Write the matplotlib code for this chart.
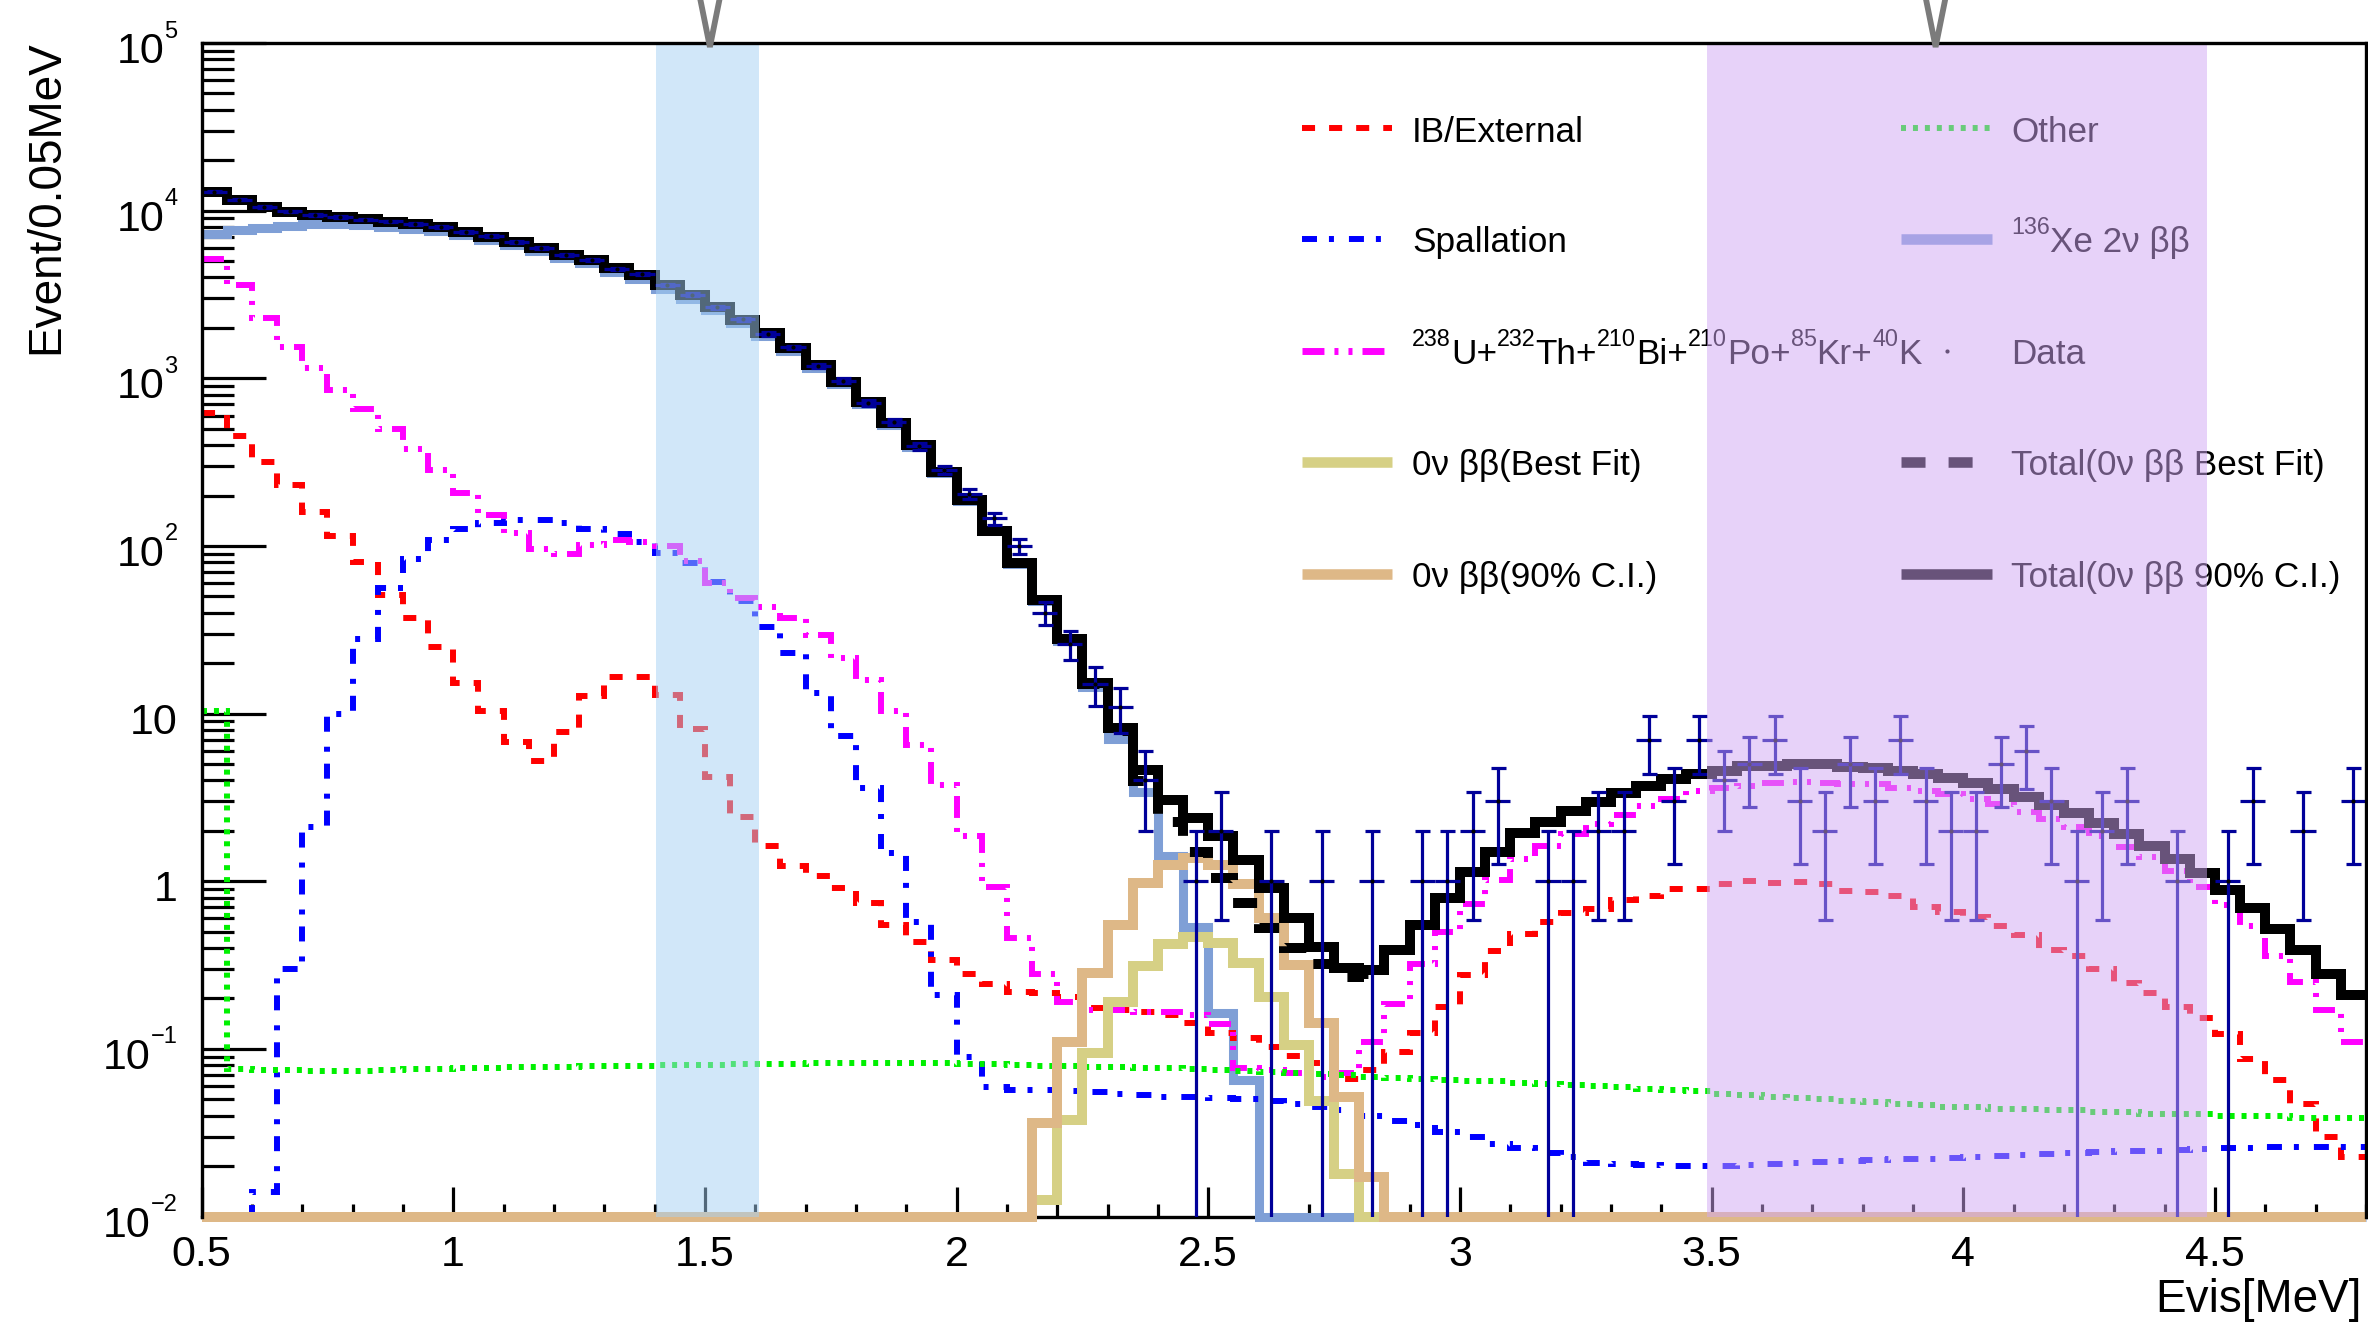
import numpy as np
import matplotlib
matplotlib.use("Agg")
import matplotlib.pyplot as plt
import matplotlib.transforms as mtransforms
from matplotlib.ticker import FixedLocator, NullFormatter, LogLocator

plt.rcParams['font.family'] = ['Liberation Sans', 'DejaVu Sans']
plt.rcParams['mathtext.fontset'] = 'custom'
plt.rcParams['mathtext.rm'] = 'Liberation Sans'
plt.rcParams['mathtext.it'] = 'Liberation Sans:italic'
plt.rcParams['mathtext.bf'] = 'Liberation Sans:bold'
plt.rcParams['lines.scale_dashes'] = False

# ---------------- spectra (events per 0.05 MeV bin, 0.5 - 4.8 MeV) ----------------
evis_edges = np.round(0.5 + 0.05 * np.arange(87), 3)

total_90cl = [
    12970, 11590, 10570, 9860, 9420, 9130, 8880, 8600, 8330, 7960,
    7500, 7000, 6530, 5970, 5440, 5080, 4530, 4140, 3610, 3140,
    2680, 2230, 1860, 1510, 1200, 955, 726, 540, 400, 277,
    188, 123, 78.8, 47.6, 27.8, 15.2, 8.18, 4.61, 3.05, 2.38,
    1.85, 1.34, 0.91, 0.60, 0.408, 0.303, 0.296, 0.389, 0.548, 0.793,
    1.14, 1.50, 1.93, 2.25, 2.62, 2.96, 3.35, 3.70, 4.08, 4.34,
    4.57, 4.87, 4.87, 4.99, 4.99, 4.83, 4.72, 4.55, 4.37, 4.11,
    3.84, 3.54, 3.20, 2.85, 2.55, 2.22, 1.91, 1.62, 1.35, 1.12,
    0.89, 0.69, 0.52, 0.39, 0.28, 0.21]

total_best = [
    12970, 11590, 10570, 9860, 9420, 9130, 8880, 8600, 8330, 7960,
    7500, 7000, 6530, 5970, 5440, 5080, 4530, 4140, 3610, 3140,
    2680, 2230, 1860, 1510, 1200, 955, 726, 540, 400, 277,
    188, 123, 78.8, 47.5, 27.7, 15.0, 7.85, 3.95, 2.25, 1.50,
    1.05, 0.74, 0.53, 0.40, 0.32, 0.27, 0.28, 0.389, 0.548, 0.793,
    1.14, 1.50, 1.93, 2.25, 2.62, 2.96, 3.35, 3.70, 4.08, 4.34,
    4.57, 4.87, 4.87, 4.99, 4.99, 4.83, 4.72, 4.55, 4.37, 4.11,
    3.84, 3.54, 3.20, 2.85, 2.55, 2.22, 1.91, 1.62, 1.35, 1.12,
    0.89, 0.69, 0.52, 0.39, 0.28, 0.21]

xe136_2nbb = [
    7230, 7670, 7930, 8110, 8300, 8330, 8220, 8030, 7750, 7540,
    7150, 6700, 6260, 5730, 5210, 4840, 4290, 3910, 3410, 2970,
    2560, 2130, 1780, 1450, 1156, 925, 706, 528, 392, 273,
    186, 122, 78, 47, 27.2, 14.4, 7.06, 3.43, 1.41, 0.535,
    0.163, 0.065, 0, 0, 0, 0, 0, 0, 0, 0,
    0, 0, 0, 0, 0, 0, 0, 0, 0, 0,
    0, 0, 0, 0, 0, 0, 0, 0, 0, 0,
    0, 0, 0, 0, 0, 0, 0, 0, 0, 0,
    0, 0, 0, 0, 0, 0]

ib_external = [
    624, 455, 318, 231, 160, 115, 80, 51, 37, 24.9,
    15.2, 10.3, 6.8, 5.2, 7.8, 12.8, 16.5, 16.5, 12.9, 8.1,
    4.2, 2.41, 1.62, 1.23, 1.08, 0.91, 0.745, 0.548, 0.433, 0.34,
    0.28, 0.243, 0.22, 0.216, 0.203, 0.175, 0.17, 0.165, 0.16, 0.142,
    0.125, 0.116, 0.103, 0.091, 0.082, 0.066, 0.075, 0.096, 0.124, 0.179,
    0.276, 0.385, 0.485, 0.574, 0.65, 0.68, 0.77, 0.82, 0.90, 0.90,
    0.97, 1.0, 0.98, 0.99, 0.97, 0.87, 0.86, 0.82, 0.70, 0.66,
    0.615, 0.54, 0.48, 0.39, 0.36, 0.30, 0.247, 0.217, 0.179, 0.152,
    0.122, 0.087, 0.065, 0.047, 0.030, 0.0228]

spallation = [
    0, 0, 0.014, 0.30, 2.1, 10.0, 28, 56, 84, 109,
    127, 138, 143, 142, 137, 127, 118, 106, 91, 79,
    61, 47, 33, 23, 13.2, 7.4, 3.6, 1.47, 0.57, 0.21,
    0.09, 0.059, 0.057, 0.057, 0.056, 0.055, 0.054, 0.053, 0.052, 0.052,
    0.051, 0.050, 0.049, 0.047, 0.045, 0.043, 0.040, 0.037, 0.035, 0.032,
    0.030, 0.027, 0.0255, 0.024, 0.0228, 0.021, 0.0206, 0.0202, 0.020, 0.020,
    0.020, 0.0203, 0.0207, 0.021, 0.0212, 0.0215, 0.0218, 0.022, 0.0222, 0.0225,
    0.0228, 0.0231, 0.0234, 0.0237, 0.024, 0.0242, 0.0245, 0.0247, 0.025, 0.0253,
    0.0255, 0.0258, 0.026, 0.026, 0.026, 0.026]

u_th_bi_po_kr_k = [
    5130, 3600, 2300, 1545, 1150, 851, 655, 497, 377, 284,
    208, 153, 119, 96, 90, 101, 109, 106, 100, 81,
    60, 49, 43.5, 37, 29.5, 21.4, 15.9, 10.3, 6.5, 3.75,
    1.85, 0.92, 0.46, 0.28, 0.19, 0.17, 0.17, 0.165, 0.165, 0.16,
    0.14, 0.077, 0.075, 0.072, 0.068, 0.072, 0.11, 0.185, 0.32, 0.50,
    0.73, 1.02, 1.35, 1.62, 1.92, 2.2, 2.5, 2.8, 3.08, 3.45,
    3.6, 3.72, 3.84, 3.92, 3.88, 3.82, 3.78, 3.6, 3.45, 3.3,
    3.1, 2.9, 2.6, 2.35, 2.1, 1.85, 1.6, 1.4, 1.15, 0.92,
    0.72, 0.54, 0.36, 0.25, 0.17, 0.11]

other = [
    10.4,
    0.076, 0.075, 0.075, 0.074, 0.074, 0.074, 0.075, 0.076, 0.076, 0.077,
    0.077, 0.078, 0.078, 0.078, 0.079, 0.079, 0.079, 0.080, 0.080, 0.080,
    0.081, 0.081, 0.081, 0.082, 0.082, 0.082, 0.082, 0.082, 0.082, 0.081,
    0.081, 0.080, 0.079, 0.079, 0.078, 0.078, 0.077, 0.077, 0.076, 0.075,
    0.074, 0.073, 0.072, 0.071, 0.070, 0.068, 0.067, 0.066, 0.065, 0.064,
    0.064, 0.063, 0.062, 0.061, 0.060, 0.059, 0.058, 0.057, 0.056, 0.054,
    0.053, 0.052, 0.051, 0.050, 0.049, 0.048, 0.047, 0.046, 0.045, 0.045,
    0.044, 0.044, 0.043, 0.043, 0.042, 0.042, 0.041, 0.041, 0.041, 0.040,
    0.040, 0.040, 0.039, 0.039, 0.039]

onbb_best = [0] * 33 + [
    0.0126, 0.0377, 0.094, 0.191, 0.313, 0.423, 0.463, 0.43, 0.327, 0.205,
    0.106, 0.0486, 0.018] + [0] * 40

onbb_90cl = [0] * 33 + [
    0.036, 0.110, 0.283, 0.548, 0.973, 1.25, 1.37, 1.25, 0.96, 0.60,
    0.317, 0.142, 0.052, 0.0173] + [0] * 39

data_counts = [
    12980, 11650, 10520, 9890, 9400, 9160, 8850, 8620, 8300, 7990,
    7480, 7030, 6510, 5990, 5420, 5100, 4510, 4170, 3590, 3160,
    2660, 2250, 1840, 1530, 1190, 970, 715, 552, 393, 284,
    205, 146, 100, 40, 26, 15, 11, 4, 0, 1,
    2, 0, 1, 0, 1, 0, 1, 0, 1, 1,
    2, 3, 0, 1, 1, 2, 2, 7, 3, 7,
    4, 5, 7, 3, 2, 5, 3, 7, 3, 2,
    2, 5, 6, 3, 1, 2, 3, 0, 1, 0,
    1, 3, 0, 2, 0, 3]

# energy windows and marker positions
roi_low = (1.403, 1.607)
roi_high = (3.491, 4.485)
roi_markers = [1.51, 3.945]

y_decades = [-2, -1, 0, 1, 2, 3, 4, 5]
x_major = [0.5, 1.0, 1.5, 2.0, 2.5, 3.0, 3.5, 4.0, 4.5]
x_labels = ['0.5', '1', '1.5', '2', '2.5', '3', '3.5', '4', '4.5']

# ---------------- figure / axes layout ----------------
DPI = 100
W, H = 2368, 1323
AX_L, AX_R, AX_T, AX_B = 201.5, 2366.0, 43.0, 1216.6
fig = plt.figure(figsize=(W / DPI, H / DPI), dpi=DPI)
ax = fig.add_axes([AX_L / W, 1 - AX_B / H, (AX_R - AX_L) / W, (AX_B - AX_T) / H])
ax.set_yscale('log')
Y_MIN, Y_MAX = 1e-2, 1e5
ax.set_xlim(0.5, 4.8)
ax.set_ylim(Y_MIN, Y_MAX)
renderer = fig.canvas.get_renderer()


def px_off(dx, dy):
    return mtransforms.ScaledTranslation(dx / DPI, dy / DPI, fig.dpi_scale_trans)


def axfrac(px, py):
    return (px - AX_L) / (AX_R - AX_L), (AX_B - py) / (AX_B - AX_T)


def draw_hist(vals, clip=True, **kw):
    v = np.clip(np.asarray(vals, dtype=float), Y_MIN, None)
    art = ax.stairs(v, evis_edges, baseline=None, fill=False, clip_on=clip, **kw)
    art.set_joinstyle('miter')
    return art


def rich_label(x_px, base_px, pieces, size, sup_size, sup_rise):
    """Left-to-right run of text pieces; pieces flagged True are superscripts."""
    x = x_px
    for txt, sup in pieces:
        fx, fy = axfrac(x, base_px - (sup_rise if sup else 0))
        t = ax.text(fx, fy, txt, transform=ax.transAxes, fontsize=sup_size if sup else size,
                    ha='left', va='baseline', color='black', zorder=5)
        x += t.get_window_extent(renderer=renderer).width


C_XE = '#7f9fd6'
C_KHAKI = '#d6d085'
C_TAN = '#deb887'
C_RED = '#ff0000'
C_BLUE = '#0000ff'
C_MAG = '#ff00ff'
C_GREEN = '#00f000'
C_DATA = '#000099'

LS_IB = (0, (9.4, 10.1))
LS_SPALL = (0, (10.8, 8.6, 3.6, 10.8))
LS_UTH = (0, (15.8, 7.2, 2.9, 7.2, 2.9, 7.2))
LS_OTHER = (0, (3.6, 5.0))
LS_TOTBEST = (0, (17.3, 16.6))

draw_hist(xe136_2nbb, clip=False, color=C_XE, lw=6.5, zorder=3.0)
draw_hist(ib_external, color=C_RED, lw=4.3, linestyle=LS_IB, zorder=3.1)
draw_hist(spallation, color=C_BLUE, lw=4.3, linestyle=LS_SPALL, zorder=3.2)
draw_hist(u_th_bi_po_kr_k, color=C_MAG, lw=4.3, linestyle=LS_UTH, zorder=3.3)
draw_hist(other, color=C_GREEN, lw=4.3, linestyle=LS_OTHER, zorder=3.4)
draw_hist(onbb_best, clip=False, color=C_KHAKI, lw=7.2, zorder=3.5)
draw_hist(onbb_90cl, clip=False, color=C_TAN, lw=7.2, zorder=3.6)
draw_hist(total_best, color='black', lw=7.2, linestyle=LS_TOTBEST, zorder=3.7)
draw_hist(total_90cl, color='black', lw=7.2, zorder=3.8)

# data with Poisson errors
counts = np.asarray(data_counts, dtype=float)
centers = 0.5 * (evis_edges[:-1] + evis_edges[1:])
has = counts > 0
xc, yc = centers[has], counts[has]
ax.errorbar(xc, yc, yerr=np.sqrt(yc), fmt='none', ecolor=C_DATA, elinewidth=2.3,
            capsize=5.4, capthick=2.3, zorder=4.0)
ax.errorbar(xc, yc, xerr=0.025, fmt='none', ecolor=C_DATA, elinewidth=2.3,
            capsize=0, zorder=4.0)
ax.plot(xc, yc, 'o', ms=3, color='black', mec='none', zorder=4.1)

# ---------------- legend (two columns) ----------------
LEG_SIZE = 25.3
row_y = [128, 239, 351, 462, 574]
col_h = [(1302, 1392, 1412), (1901, 1992, 2011)]
uth_pieces = [('238', True), ('U+', False), ('232', True), ('Th+', False),
              ('210', True), ('Bi+', False), ('210', True), ('Po+', False),
              ('85', True), ('Kr+', False), ('40', True), ('K', False)]
xe_pieces = [('136', True), ('Xe 2ν ββ', False)]
legend_entries = [
    (0, 0, 'IB/External', dict(color=C_RED, lw=4.3, linestyle=LS_IB)),
    (0, 1, 'Spallation', dict(color=C_BLUE, lw=4.3, linestyle=LS_SPALL)),
    (0, 2, uth_pieces, dict(color=C_MAG, lw=5.0, linestyle=LS_UTH)),
    (0, 3, '0ν ββ(Best Fit)', dict(color=C_KHAKI, lw=7.6)),
    (0, 4, '0ν ββ(90% C.I.)', dict(color=C_TAN, lw=7.6)),
    (1, 0, 'Other', dict(color=C_GREEN, lw=4.3, linestyle=LS_OTHER)),
    (1, 1, xe_pieces, dict(color=C_XE, lw=7.6)),
    (1, 2, 'Data', None),
    (1, 3, 'Total(0ν ββ Best Fit)', dict(color='black', lw=7.6, linestyle=LS_TOTBEST)),
    (1, 4, 'Total(0ν ββ 90% C.I.)', dict(color='black', lw=7.6)),
]
for col, row, label, style in legend_entries:
    hx0, hx1, tx = col_h[col]
    yy = row_y[row]
    if style is None:
        px, py = axfrac(0.5 * (hx0 + hx1), yy)
        ax.plot([px], [py], 'o', ms=3, color='black', mec='none',
                transform=ax.transAxes, zorder=5)
    else:
        (a0, b0), (a1, _) = axfrac(hx0, yy), axfrac(hx1, yy)
        ax.plot([a0, a1], [b0, b0], transform=ax.transAxes, solid_capstyle='butt',
                dash_capstyle='butt', zorder=5, **style)
    if isinstance(label, list):
        rich_label(tx, yy + 13.5, label, LEG_SIZE, 16.8, 19)
    else:
        t0, tb = axfrac(tx, yy + 13.5)
        ax.text(t0, tb, label, transform=ax.transAxes, fontsize=LEG_SIZE, ha='left',
                va='baseline', color='black', zorder=5)

# ---------------- energy windows ----------------
ax.axvspan(*roi_low, ymin=0, ymax=1, facecolor='#a5d1f5', alpha=0.5, lw=0, zorder=15)
ax.axvspan(*roi_high, ymin=0, ymax=1, facecolor='#d1a7f5', alpha=0.5, lw=0, zorder=15)

vtrans = mtransforms.blended_transform_factory(ax.transData, ax.transAxes)
for xm in roi_markers:
    ax.plot([xm - 0.0265, xm, xm + 0.0265], [1.053, 0.9966, 1.053], color='#7b7b7b',
            lw=4.2, transform=vtrans, clip_on=False, solid_joinstyle='bevel', zorder=21)

# ---------------- axes styling ----------------
for side in ['top', 'left', 'right']:
    ax.spines[side].set_linewidth(2.4)
    ax.spines[side].set_zorder(20)
ax.spines['bottom'].set_linewidth(2.4)

ax.xaxis.set_major_locator(FixedLocator(x_major))
ax.xaxis.set_minor_locator(FixedLocator(
    [round(0.5 + 0.1 * k, 2) for k in range(44) if k % 5 != 0]))
ax.set_xticklabels(x_labels)
ax.yaxis.set_major_locator(FixedLocator([10.0 ** e for e in y_decades]))
ax.yaxis.set_minor_locator(LogLocator(base=10, subs=np.arange(2, 10), numticks=20))
ax.yaxis.set_major_formatter(NullFormatter())
ax.yaxis.set_minor_formatter(NullFormatter())

ax.tick_params(axis='both', which='both', direction='in', top=False, right=False,
               color='black', width=2.3)
ax.tick_params(axis='y', which='major', length=46)
ax.tick_params(axis='y', which='minor', length=23)
ax.tick_params(axis='x', which='major', length=21.6, labelsize=31, pad=13)
ax.tick_params(axis='x', which='minor', length=9.4)

# y tick labels: "10" with a small raised exponent
ytrans = mtransforms.blended_transform_factory(ax.transAxes, ax.transData)
lab_x = axfrac(177.5, 0)[0]
for e in y_decades:
    val = 10.0 ** e
    if e in (0, 1):
        ax.text(lab_x, val, '1' if e == 0 else '10', transform=ytrans + px_off(0, -20),
                fontsize=31, ha='right', va='baseline', clip_on=False)
        continue
    exp_txt = str(e).replace('-', '\u2212')
    t_exp = ax.text(lab_x, val, exp_txt, transform=ytrans + px_off(0, 5.5),
                    fontsize=17, ha='right', va='baseline', clip_on=False)
    w = t_exp.get_window_extent(renderer=renderer).width
    ax.text(lab_x, val, '10', transform=ytrans + px_off(-w, -20),
            fontsize=31, ha='right', va='baseline', clip_on=False)

fig.text(46 / W, 1 - 40 / H, 'Event/0.05MeV', rotation=90, ha='center', va='top',
         fontsize=33)
fig.text(2362 / W, 1 - 1311.7 / H, 'Evis[MeV]', ha='right', va='baseline', fontsize=33)

fig.savefig('out.png', dpi=DPI)
